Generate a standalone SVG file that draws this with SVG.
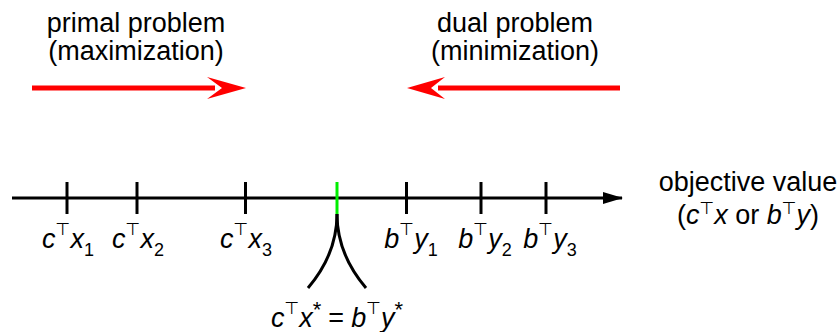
<svg xmlns="http://www.w3.org/2000/svg" width="840" height="332" viewBox="0 0 840 332">
<style>
.t{font-family:"Liberation Sans",Arial,sans-serif;font-size:27px;fill:#000}
.m{font-family:"Liberation Sans",Arial,sans-serif;font-size:27px;fill:#000}
.i{font-style:italic}
.T{font-family:"DejaVu Sans",sans-serif;font-size:17px}
.s{font-size:18px}
.st{font-size:22px}
.ax{stroke:#000;stroke-width:3;fill:none}
.tk{stroke:#000;stroke-width:3}
.red{stroke:#ff0000;stroke-width:5;fill:none}
</style>
<defs>
<marker id="ah" viewBox="0 0 20 12" refX="19" refY="6" markerWidth="20" markerHeight="12" markerUnits="userSpaceOnUse" orient="auto"><path d="M0,0 L20,6 L0,12 Z" fill="#000"/></marker>
</defs>
<g id="primal">
<text class="t" x="136" y="32" text-anchor="middle">primal problem</text>
<text class="t" x="136" y="60" text-anchor="middle">(maximization)</text>
<line class="red" x1="32" y1="88" x2="215" y2="88"/>
<path d="M246,88 L207,77 L222,88 L207,99 Z" fill="#ff0000"/>
</g>
<g id="dual">
<text class="t" x="515" y="32" text-anchor="middle">dual problem</text>
<text class="t" x="515" y="60" text-anchor="middle">(minimization)</text>
<line class="red" x1="620" y1="88" x2="438" y2="88"/>
<path d="M407,88 L445,77 L431,88 L445,99 Z" fill="#ff0000"/>
</g>
<g id="connectors">
<line class="ax" x1="12" y1="198" x2="622" y2="198" marker-end="url(#ah)"/>
<line class="tk" x1="67" y1="182" x2="67" y2="214"/>
<line class="tk" x1="137" y1="182" x2="137" y2="214"/>
<line class="tk" x1="245.5" y1="182" x2="245.5" y2="214"/>
<line class="tk" x1="406.5" y1="182" x2="406.5" y2="214"/>
<line class="tk" x1="481" y1="182" x2="481" y2="214"/>
<line class="tk" x1="546" y1="182" x2="546" y2="214"/>
<line x1="337" y1="182" x2="337" y2="214" stroke="#00ee00" stroke-width="3"/>
<path class="ax" d="M337,214 C337,245 325,268 308,288"/>
<path class="ax" d="M337,214 C337,245 349,268 366,288"/>
</g>
<g id="labels">
<text class="m" x="68" y="248" text-anchor="middle"><tspan class="i">c</tspan><tspan class="T" dy="-13">⊤</tspan><tspan class="i" dy="13">x</tspan><tspan class="s" dy="8">1</tspan></text>
<text class="m" x="138" y="248" text-anchor="middle"><tspan class="i">c</tspan><tspan class="T" dy="-13">⊤</tspan><tspan class="i" dy="13">x</tspan><tspan class="s" dy="8">2</tspan></text>
<text class="m" x="246" y="248" text-anchor="middle"><tspan class="i">c</tspan><tspan class="T" dy="-13">⊤</tspan><tspan class="i" dy="13">x</tspan><tspan class="s" dy="8">3</tspan></text>
<text class="m" x="411" y="248" text-anchor="middle"><tspan class="i">b</tspan><tspan class="T" dy="-13">⊤</tspan><tspan class="i" dy="13">y</tspan><tspan class="s" dy="8">1</tspan></text>
<text class="m" x="485" y="248" text-anchor="middle"><tspan class="i">b</tspan><tspan class="T" dy="-13">⊤</tspan><tspan class="i" dy="13">y</tspan><tspan class="s" dy="8">2</tspan></text>
<text class="m" x="550" y="248" text-anchor="middle"><tspan class="i">b</tspan><tspan class="T" dy="-13">⊤</tspan><tspan class="i" dy="13">y</tspan><tspan class="s" dy="8">3</tspan></text>
<text class="m" x="337" y="327" text-anchor="middle"><tspan class="i">c</tspan><tspan class="T" dy="-13">⊤</tspan><tspan class="i" dy="13">x</tspan><tspan class="st" dy="-10">*</tspan><tspan dx="7" dy="10">=</tspan><tspan class="i" dx="7">b</tspan><tspan class="T" dy="-13">⊤</tspan><tspan class="i" dy="13">y</tspan><tspan class="st" dy="-10">*</tspan></text>
</g>
<g id="axis-label">
<text class="t" x="748" y="191" text-anchor="middle">objective value</text>
<text class="t" x="748" y="224" text-anchor="middle">(<tspan class="i">c</tspan><tspan class="T" dy="-10">⊤</tspan><tspan class="i" dy="10">x</tspan> or <tspan class="i">b</tspan><tspan class="T" dy="-10">⊤</tspan><tspan class="i" dy="10">y</tspan>)</text>
</g>
</svg>
